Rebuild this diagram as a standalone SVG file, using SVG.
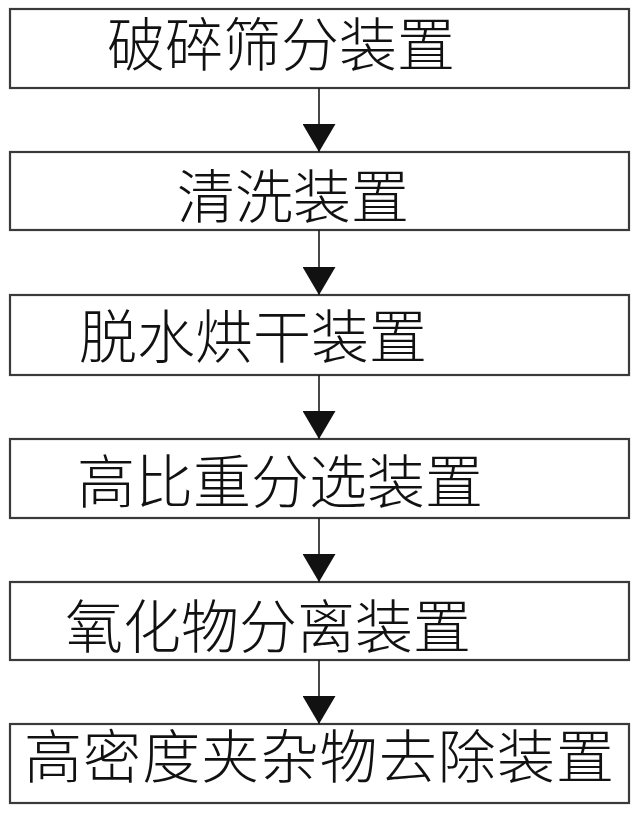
<svg xmlns="http://www.w3.org/2000/svg" width="640" height="813" viewBox="0 0 640 813">
<style>
.box{fill:#fff;stroke:#3a3a3a;stroke-width:2.2}
.lbl{font-family:"Noto Sans CJK SC","Noto Sans CJK JP",sans-serif;font-size:58px;fill:#111;font-weight:300}
.conn{stroke:#1a1a1a;stroke-width:1.6;fill:none}
.head{fill:#111}
</style>
<defs>
<marker id="ah" viewBox="0 0 28 33" markerWidth="28" markerHeight="33" refX="28" refY="16.5" orient="auto" markerUnits="userSpaceOnUse">
<path d="M0,0 L28,16.5 L0,33 Z" class="head"/>
</marker>
</defs>
<rect width="640" height="813" fill="#fff"/>
<g id="node1"><rect class="box" x="10" y="9" width="619" height="79"/><text class="lbl" x="107" y="66">破碎筛分装置</text></g>
<g id="node2"><rect class="box" x="10" y="152" width="619" height="78"/><text class="lbl" x="177" y="218">清洗装置</text></g>
<g id="node3"><rect class="box" x="10" y="295" width="619" height="80"/><text class="lbl" x="79" y="358">脱水烘干装置</text></g>
<g id="node4"><rect class="box" x="10" y="439" width="619" height="79"/><text class="lbl" x="77" y="503">高比重分选装置</text></g>
<g id="node5"><rect class="box" x="10" y="582" width="619" height="78"/><text class="lbl" x="65" y="648">氧化物分离装置</text></g>
<g id="node6"><rect class="box" x="10" y="724" width="619" height="79"/><text class="lbl" x="24" y="778" textLength="590" lengthAdjust="spacing">高密度夹杂物去除装置</text></g>
<g id="connectors">
<path class="conn" d="M319,88 V152" marker-end="url(#ah)"/>
<path class="conn" d="M319,230 V295" marker-end="url(#ah)"/>
<path class="conn" d="M319,375 V439" marker-end="url(#ah)"/>
<path class="conn" d="M319,518 V582" marker-end="url(#ah)"/>
<path class="conn" d="M319,660 V724" marker-end="url(#ah)"/>
</g>
</svg>
